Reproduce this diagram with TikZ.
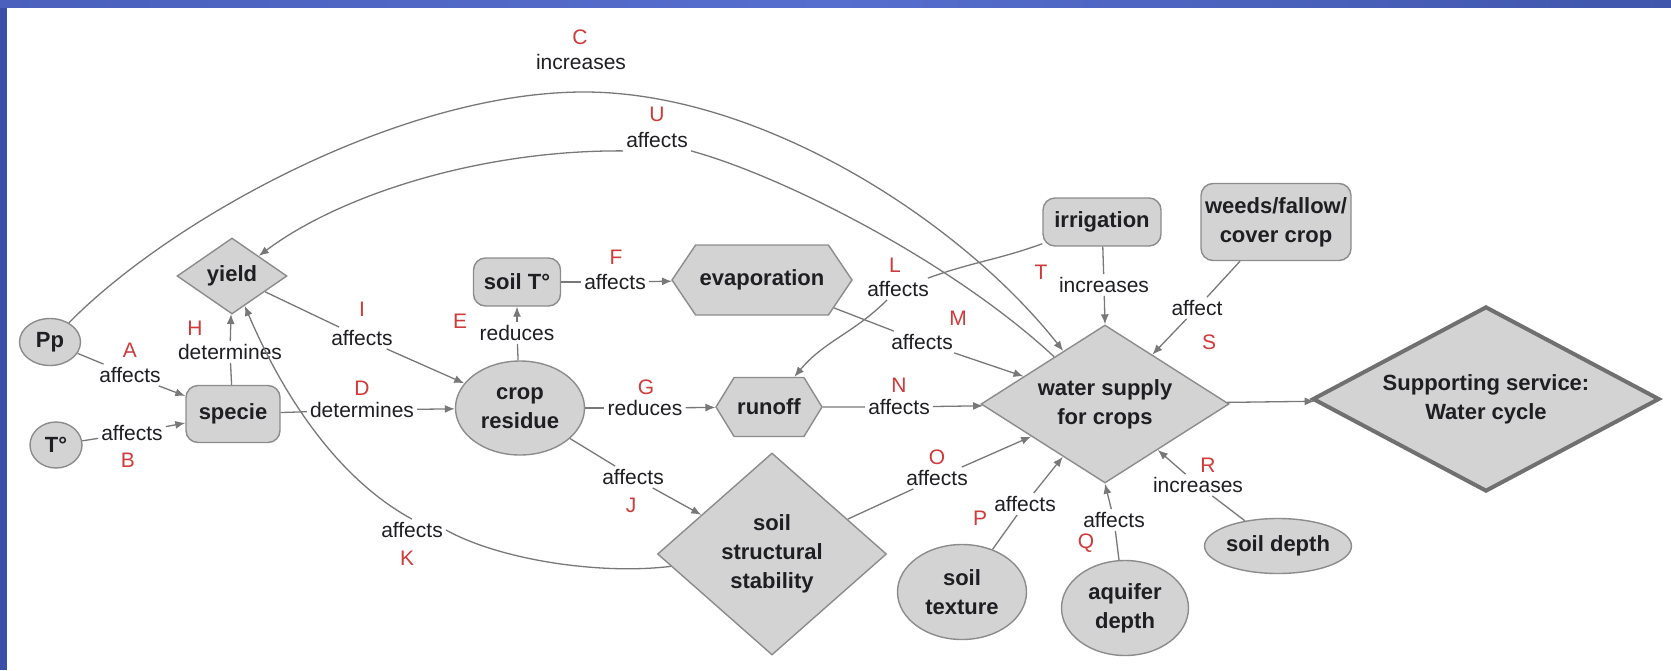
\documentclass[tikz,border=0pt]{standalone}
\usepackage{fontspec}
\setmainfont{Liberation Sans}
\usetikzlibrary{shapes.geometric,shapes.symbols,arrows.meta}

\definecolor{nodefill}{RGB}{211,211,211}
\definecolor{nodeline}{RGB}{140,140,140}
\definecolor{supline}{RGB}{112,112,112}
\definecolor{linkgray}{RGB}{120,120,120}
\definecolor{tagred}{RGB}{208,58,58}
\definecolor{textdark}{RGB}{30,30,35}
\definecolor{framebluel}{RGB}{58,80,168}
\definecolor{barblueA}{RGB}{74,96,188}
\definecolor{barblueB}{RGB}{86,110,206}
\definecolor{barblueC}{RGB}{64,86,172}

\newcommand{\conceptfont}{\fontsize{22}{29}\selectfont\bfseries}
\newcommand{\relfont}{\fontsize{21}{24}\selectfont}

\begin{document}
\begin{tikzpicture}[x=1pt,y=-1pt,
  concept/.style={draw=nodeline, fill=nodefill, line width=1.4pt, font=\conceptfont,
                  text=textdark, align=center, inner sep=0pt},
  oval/.style={concept, ellipse},
  box/.style={concept, rectangle, rounded corners=12pt},
  rhomb/.style={concept, diamond},
  hexa/.style={concept, signal, signal to=east and west},
  rel/.style={font=\relfont, text=textdark, inner sep=3pt},
  tag/.style={font=\relfont, text=tagred, inner sep=0pt},
  link/.style={draw=linkgray, line width=1.3pt},
  arrowlink/.style={link, -{Latex[length=10pt,width=8pt]}},
]

% page, frame bars
\fill[white] (0,0) rectangle (1671,670);
\useasboundingbox (0,0) rectangle (1671,670);
\fill[framebluel] (0,0) rectangle (7,670);
\shade[left color=barblueA, right color=barblueC, middle color=barblueB] (0,0) rectangle (1671,7);

% concepts
\node[oval, minimum width=61pt, minimum height=47pt] (Pp) at (50,342) {Pp};
\node[oval, minimum width=52pt, minimum height=46pt] (Tair) at (56,445) {T°};
\node[rhomb, minimum width=110pt, minimum height=76pt] (yield) at (232,276) {yield};
\node[box, minimum width=94pt, minimum height=57pt] (specie) at (233,414) {specie};
\node[box, minimum width=87pt, minimum height=48pt] (soilT) at (517,282) {soil T°};
\node[hexa, signal pointer angle=112, minimum width=180pt, minimum height=70pt] (evap) at (762,280) {evaporation};
\node[oval, minimum width=129pt, minimum height=94pt] (crop) at (520,408) {crop\\residue};
\node[hexa, signal pointer angle=117, minimum width=106pt, minimum height=59pt] (runoff) at (769,407) {runoff};
\node[box, minimum width=118pt, minimum height=48pt] (irrig) at (1102,222) {irrigation};
\node[box, minimum width=150pt, minimum height=77pt] (weeds) at (1276,222) {weeds/fallow/\\cover crop};
\node[rhomb, aspect=1.57, minimum width=248pt, minimum height=158pt] (water) at (1105,404) {water supply\\for crops};
\node[rhomb, aspect=1.87, minimum width=347pt, minimum height=185pt, line width=4pt, draw=supline] (supp) at (1486,399) {Supporting service:\\Water cycle};
\node[rhomb, minimum width=229pt, minimum height=202pt] (sss) at (772,554) {soil\\structural\\stability};
\node[oval, minimum width=129pt, minimum height=95pt] (texture) at (962,592) {soil\\texture};
\node[oval, minimum width=127pt, minimum height=95pt] (aquifer) at (1125,608) {aquifer\\depth};
\node[oval, minimum width=143pt, minimum height=55pt] (sdepth) at (1278,546) {soil depth};

% relation words and their letters
\node[rel] (lA) at (130,375) {affects};     \node[tag] (tA) at (130,350) {A};
\node[rel] (lB) at (132,433) {affects};     \node[tag] (tB) at (128,460) {B};
\node[rel] (lC) at (581,62) {increases};    \node[tag] (tC) at (580,37) {C};
\node[rel] (lD) at (362,410) {determines};  \node[tag] (tD) at (362,388) {D};
\node[rel] (lE) at (517,333) {reduces};     \node[tag] (tE) at (460,321) {E};
\node[rel] (lF) at (615,282) {affects};     \node[tag] (tF) at (616,257) {F};
\node[rel] (lG) at (645,408) {reduces};     \node[tag] (tG) at (646,387) {G};
\node[rel] (lH) at (230,352) {determines};  \node[tag] (tH) at (195,328) {H};
\node[rel] (lI) at (362,338) {affects};     \node[tag] (tI) at (362,309) {I};
\node[rel] (lJ) at (633,477) {affects};     \node[tag] (tJ) at (631,505) {J};
\node[rel] (lK) at (412,530) {affects};     \node[tag] (tK) at (407,558) {K};
\node[rel] (lL) at (898,289) {affects};     \node[tag] (tL) at (895,265) {L};
\node[rel] (lM) at (922,342) {affects};     \node[tag] (tM) at (958,318) {M};
\node[rel] (lN) at (899,407) {affects};     \node[tag] (tN) at (899,385) {N};
\node[rel] (lO) at (937,478) {affects};     \node[tag] (tO) at (937,457) {O};
\node[rel] (lP) at (1025,504) {affects};    \node[tag] (tP) at (980,518) {P};
\node[rel] (lQ) at (1114,520) {affects};    \node[tag] (tQ) at (1086,543) {Q};
\node[rel] (lR) at (1198,485) {increases};  \node[tag] (tR) at (1208,465) {R};
\node[rel] (lS) at (1197,308) {affect};     \node[tag] (tS) at (1209,342) {S};
\node[rel] (lT) at (1104,285) {increases};  \node[tag] (tT) at (1041,272) {T};
\node[rel] (lU) at (657,140) {affects};     \node[tag] (tU) at (657,114) {U};

\coordinate (cTop) at (584,92);

% straight links
\draw[link] (Pp) -- (lA);        \draw[arrowlink] (lA) -- (specie);
\draw[link] (Tair) -- (lB);      \draw[arrowlink] (lB) -- (specie);
\draw[link] (specie) -- (lD);    \draw[arrowlink] (lD) -- (crop);
\draw[link] (crop) -- (lE);      \draw[arrowlink] (lE) -- (soilT);
\draw[link] (soilT) -- (lF);     \draw[arrowlink] (lF) -- (evap);
\draw[link] (crop) -- (lG);      \draw[arrowlink] (lG) -- (runoff);
\draw[link] (specie) -- (lH);    \draw[arrowlink] (lH) -- (yield);
\draw[link] (yield) -- (lI);     \draw[arrowlink] (lI) -- (crop);
\draw[link] (crop) -- (lJ);      \draw[arrowlink] (lJ) -- (sss);
\draw[link] (evap) -- (lM);      \draw[arrowlink] (lM) -- (water);
\draw[link] (runoff) -- (lN);    \draw[arrowlink] (lN) -- (water);
\draw[link] (sss) -- (lO);       \draw[arrowlink] (lO) -- (water);
\draw[link] (texture) -- (lP);   \draw[arrowlink] (lP) -- (water);
\draw[link] (aquifer) -- (lQ);   \draw[arrowlink] (lQ) -- (water.south);
\draw[link] (sdepth) -- (lR);    \draw[arrowlink] (lR) -- (water);
\draw[link] (weeds) -- (lS);     \draw[arrowlink] (lS) -- (water);
\draw[link] (irrig) -- (lT);     \draw[arrowlink] (lT) -- (water.north);
\draw[arrowlink] (water) -- (supp);

% curved links
\draw[arrowlink] (Pp) .. controls (170,220) and (400,92) .. (cTop)
                      .. controls (760,92) and (960,220) .. (water);
\draw[link] (water) .. controls (950,260) and (780,175) .. (lU.south east);
\draw[arrowlink] (lU.south west) .. controls (480,150) and (340,195) .. (yield);
\draw[link] (sss) .. controls (600,575) and (500,560) .. (lK.east);
\draw[arrowlink] (lK.north) .. controls (340,480) and (285,400) .. (yield);
\draw[link] (irrig) to[out=200, in=20] (lL);
\draw[arrowlink] (lL) to[out=-135, in=50] (runoff);

\end{tikzpicture}
\end{document}
